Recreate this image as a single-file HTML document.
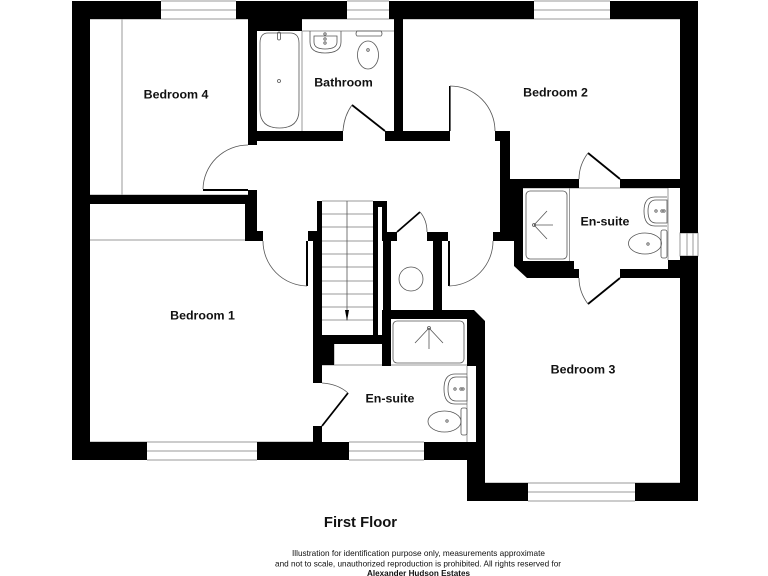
<!DOCTYPE html>
<html><head><meta charset="utf-8"><title>First Floor</title>
<style>html,body{margin:0;padding:0;background:#fff}svg{display:block;filter:blur(.3px)}
text{font-family:"Liberation Sans",sans-serif;fill:#111}
.l{font-weight:bold;font-size:12.4px;text-anchor:middle}
.f{font-size:8.4px;text-anchor:middle}
.t{fill:none;stroke:#999;stroke-width:1}
.d{fill:none;stroke:#555;stroke-width:.8}
.s{fill:#000;stroke:none}
.leaf{stroke:#000;stroke-width:1.8;fill:none}
</style></head><body>
<svg width="768" height="576" viewBox="0 0 768 576" xmlns="http://www.w3.org/2000/svg">
<rect width="768" height="576" fill="#fff"/>
<!-- windows and thin lines -->
<g class="t">
<path d="M161 1H236M161 10H236M161 19H236"/>
<path d="M347 1H389M347 10H389M347 19H389"/>
<path d="M534 1H610M534 10H610M534 19H610"/>
<path d="M147 442H257M147 451H257M147 460H257"/>
<path d="M349 442H424M349 451H424M349 460H424"/>
<path d="M528 483H635M528 492H635M528 501H635"/>
<path d="M680 233H698V256H680ZM687 233V256M693 233V256"/>
<path d="M122 19V195M90 19H248M90 195H248"/>
<path d="M90 240H245M90 442H313"/>
<path d="M302 31V131M302 31H394M302 19H394"/>
<path d="M569.5 188V261M668 188V260M523 188H668"/>
<path d="M334 344V365H382"/>
<path d="M322 365H382M391 365H476M467 366V442"/>
<path d="M403 19H680M485 483H680"/>
<path d="M322 201H373M322 214H373M322 227H373M322 241H373M322 254H373M322 267H373M322 281H373M322 294H373M322 307H373M322 320H373"/>
</g>
<!-- walls -->
<g class="s">
<rect x="72" y="1" width="89" height="18"/>
<rect x="236" y="1" width="111" height="18"/>
<rect x="389" y="1" width="145" height="18"/>
<rect x="610" y="1" width="88" height="18"/>
<rect x="72" y="1" width="18" height="459"/>
<rect x="680" y="1" width="18" height="232"/>
<rect x="680" y="256" width="18" height="245"/>
<rect x="668" y="260" width="30" height="9"/>
<rect x="72" y="442" width="75" height="18"/>
<rect x="257" y="442" width="92" height="18"/>
<rect x="424" y="442" width="61" height="18"/>
<rect x="467" y="442" width="18" height="59"/>
<rect x="467" y="483" width="61" height="18"/>
<rect x="635" y="483" width="63" height="18"/>
<rect x="90" y="195" width="167" height="9"/>
<rect x="248" y="190" width="9" height="14"/>
<rect x="245" y="204" width="12" height="36"/>
<rect x="245" y="231" width="18" height="10"/>
<rect x="248" y="19" width="9" height="126"/>
<rect x="248" y="19" width="54" height="12"/>
<rect x="248" y="131" width="95" height="10"/>
<rect x="385" y="131" width="65" height="10"/>
<rect x="394" y="19" width="9" height="115"/>
<rect x="495" y="131" width="15" height="10"/>
<rect x="500" y="131" width="10" height="110"/>
<rect x="493" y="232" width="21" height="9"/>
<rect x="500" y="179" width="79" height="9"/>
<rect x="620" y="179" width="60" height="9"/>
<rect x="620" y="269" width="60" height="9"/>
<polygon points="505,179 523,179 523,261 574,261 574,269 579,269 579,278 527,278 514,266 514,241 505,241"/>
<rect x="317" y="201" width="5" height="40"/>
<rect x="308" y="231" width="14" height="10"/>
<rect x="313" y="231" width="9" height="152"/>
<rect x="313" y="335" width="78" height="9"/>
<rect x="322" y="344" width="12" height="21"/>
<rect x="313" y="426" width="9" height="16"/>
<rect x="373" y="201" width="14" height="6"/>
<rect x="373" y="201" width="5" height="134"/>
<rect x="382" y="201" width="5" height="40"/>
<rect x="383" y="232" width="14" height="9"/>
<rect x="383" y="232" width="8" height="112"/>
<rect x="382" y="310" width="9" height="56"/>
<rect x="427" y="232" width="21" height="9"/>
<rect x="433" y="232" width="9" height="78"/>
<polygon points="383,310 474,310 485,321 485,442 476,442 476,366 467,366 467,319 383,319"/>
<rect x="203" y="189" width="45" height="2"/>
<rect x="449" y="86" width="1.6" height="45"/>
<rect x="306" y="241" width="2" height="45"/>
<rect x="448" y="241" width="2" height="45"/>
</g>
<g class="leaf">
<line x1="385" y1="131" x2="352" y2="105"/>
<line x1="620" y1="179" x2="588" y2="153"/>
<line x1="620" y1="278" x2="588" y2="304"/>
<line x1="397" y1="232" x2="420" y2="212"/>
<line x1="322" y1="426" x2="348" y2="393"/>
</g>
<g class="d">
<path d="M203 189A45 45 0 0 1 248 145"/>
<path d="M450 86A45 45 0 0 1 495 131"/>
<path d="M263 241A45 45 0 0 0 307 286"/>
<path d="M493 241A45 45 0 0 1 449 286"/>
<path d="M352 105Q344 116 343 131"/>
<path d="M588 153Q579 165 579 179"/>
<path d="M588 304Q579 292 579 278"/>
<path d="M420 212Q427 220 427 232"/>
<path d="M322 383Q338 384 348 393"/>
</g>
<line x1="347" y1="201" x2="347" y2="320" stroke="#555" stroke-width=".8"/>
<polygon points="345,310 349,310 347,321" fill="#000"/>
<circle cx="411" cy="279" r="12" class="d"/>
<!-- fixtures -->
<g class="d">
<path d="M268 33H290Q299 33 299 43V110Q299 128 279.5 128Q260 128 260 110V43Q260 33 268 33Z"/>
<circle cx="279" cy="81" r="1.5"/>
<rect x="277.5" y="32" width="3" height="8" rx="1.5"/>
<path d="M310 31V42Q310 53 325 53Q341 53 341 42V31"/>
<path d="M314 36V42Q314 49 325 49Q337 49 337 42V36Z"/>
<circle cx="325" cy="39" r="1.2"/><circle cx="325" cy="43" r="1.2"/><circle cx="325" cy="34" r="1.2"/>
<path d="M357 31H381Q383 34 381 36H357Q355 34 357 31Z"/>
<ellipse cx="368" cy="55" rx="10.5" ry="14"/>
<circle cx="368" cy="50" r="1.3"/>
<rect x="526" y="191" width="41" height="68" rx="4"/>
<path d="M534 225H553M534 225L547 211M534 225L547 239"/>
<circle cx="534" cy="225" r="1.5"/>
<path d="M667 197H655Q644 197 644 211Q644 226 655 226H667"/>
<path d="M667 200H656Q648 200 648 211Q648 223 656 223H667Z"/>
<circle cx="656" cy="211" r="1.2"/><circle cx="662" cy="211" r="1.2"/><circle cx="664" cy="211" r="1.2"/>
<ellipse cx="645" cy="243.5" rx="16.5" ry="10.5"/>
<rect x="661" y="230" width="6" height="28" rx="2"/>
<circle cx="648" cy="244" r="1.2"/>
<rect x="393" y="321" width="71" height="42" rx="4"/>
<path d="M429 328V349M429 328L415 343M429 328L443 343"/>
<circle cx="429" cy="328" r="1.5"/>
<path d="M467 374H455Q444 374 444 389Q444 404 455 404H467"/>
<path d="M467 377H456Q448 377 448 389Q448 401 456 401H467Z"/>
<circle cx="455" cy="389" r="1.2"/><circle cx="461" cy="389" r="1.2"/><circle cx="463" cy="389" r="1.2"/>
<ellipse cx="444.5" cy="421.5" rx="16.5" ry="10.5"/>
<rect x="461" y="408" width="6" height="27" rx="2"/>
<circle cx="447" cy="421" r="1.2"/>
</g>
<text class="l" x="176" y="98.5">Bedroom 4</text>
<text class="l" x="343.5" y="86.5">Bathroom</text>
<text class="l" x="555.5" y="96.5">Bedroom 2</text>
<text class="l" x="605" y="225.5">En-suite</text>
<text class="l" x="202.5" y="319.5">Bedroom 1</text>
<text class="l" x="583" y="373.5">Bedroom 3</text>
<text class="l" x="390" y="402.5">En-suite</text>
<text x="360.5" y="527" style="font-weight:bold;font-size:14.8px;text-anchor:middle">First Floor</text>
<text class="f" x="418.5" y="556" textLength="253" lengthAdjust="spacingAndGlyphs">Illustration for identification purpose only, measurements approximate</text>
<text class="f" x="418" y="566.5" textLength="286" lengthAdjust="spacingAndGlyphs">and not to scale, unauthorized reproduction is prohibited. All rights reserved for</text>
<text class="f" x="418.5" y="576" style="font-weight:bold" textLength="103" lengthAdjust="spacingAndGlyphs">Alexander Hudson Estates</text>
</svg>
</body></html>
